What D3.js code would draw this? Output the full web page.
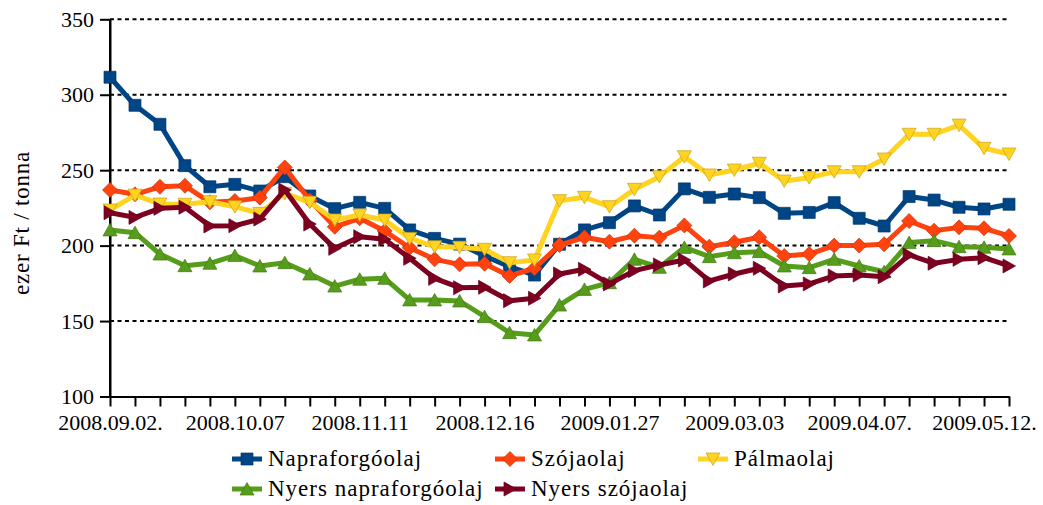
<!DOCTYPE html>
<html><head><meta charset="utf-8">
<script src="https://cdn.jsdelivr.net/npm/d3@7"></script>
<style>
body{margin:0;background:#fff}
</style>
</head><body>
<svg id="c" width="1043" height="505"></svg>
<script>
const categories = ["2008.09.02","2008.09.09","2008.09.16","2008.09.23","2008.09.30","2008.10.07","2008.10.14","2008.10.21","2008.10.28","2008.11.04","2008.11.11","2008.11.18","2008.11.25","2008.12.02","2008.12.09","2008.12.16","2008.12.23","2009.01.06","2009.01.13","2009.01.20","2009.01.27","2009.02.03","2009.02.10","2009.02.17","2009.02.24","2009.03.03","2009.03.10","2009.03.17","2009.03.24","2009.03.31","2009.04.07","2009.04.14","2009.04.21","2009.04.28","2009.05.05","2009.05.12","2009.05.19"];
const tickLabels = ["2008.09.02.","2008.10.07","2008.11.11","2008.12.16","2009.01.27","2009.03.03","2009.04.07.","2009.05.12."];
const yTicks = [100,150,200,250,300,350];
const seriesNames = ["Napraforgóolaj","Szójaolaj","Pálmaolaj","Nyers napraforgóolaj","Nyers szójaolaj"];
const napraforgoolaj = [311.6,293,280.4,253,239,240.6,236.2,245.7,232.9,224.5,228.7,224.7,210.4,204.8,201,193.1,186,180.5,200.9,210.4,215.2,226.3,220.3,237.6,232,234.2,231.8,221.4,222,228.5,218.1,213,232.5,230.2,225.4,224.3,227.4];
const szojaolaj = [236.9,234,239,239.7,228.7,229.6,231.8,251.8,230,212.5,218.1,209.7,198.6,190.9,187.6,188,179.9,185,200.4,205.5,202.6,206.6,205.3,213.4,199.3,202.2,205.5,193.1,194.4,200,200,200.9,216.3,209.9,212.1,211.5,206.4];
const palmaolaj = [223.6,233.5,227.6,227.4,229.1,225.8,221.4,234.6,228.7,217,220.3,217,204.8,199.3,198.9,197.6,188.7,190.5,229.8,232,225.8,237.3,245.7,258.9,246.8,250.1,254.6,242.8,245,249,249,257.4,273.8,273.8,279.9,264.5,260.7];
const nyersNapraforgoolaj = [210.4,208.6,194.4,186.7,188.3,193.4,186.5,188.7,181.2,173.2,177.7,178.3,164,164,163.3,152.9,142.3,140.8,160.6,171,175.4,190.9,185.6,198.8,192.7,195.3,196,186.5,185.4,190.9,186.5,182.7,202,203.3,199.3,198.9,197.8];
const nyersSzojaolaj = [221.8,218.7,224.7,225.4,213,213.2,217.6,236.9,214.3,198.2,205.9,204.2,191.6,178.3,172.1,172.4,163.5,165.1,181.2,184.3,174.6,183.4,187.2,190.5,176.6,181.2,185,173.2,174.6,179.9,180.5,179.4,193.8,188.3,190.9,192,186.5];
const colors = ["#004586","#ff420e","#ffd320","#579d1c","#7e0021"];
const shapes = ["square","diamond","down","up","right"];
const FONT = '"Liberation Serif"';

const svg = d3.select("#c");
const x = d3.scalePoint().domain(categories).range([110, 1009]);
const y = d3.scaleLinear().domain([100, 350]).range([396.5, 19.3]);

// gridlines
svg.append("g").selectAll("line").data(yTicks.filter(v => v > 100)).join("line")
  .attr("x1", 110).attr("x2", 1010)
  .attr("y1", d => y(d)).attr("y2", d => y(d))
  .attr("stroke", "#000").attr("stroke-width", 2).attr("stroke-dasharray", "4,3.5");

// axes
const labelMap = {};
tickLabels.forEach(l => labelMap[l.replace(/\.$/, "")] = l);
const gx = svg.append("g").attr("transform", `translate(0,${y(100)})`)
  .call(d3.axisBottom(x).tickValues(categories).tickFormat(d => labelMap[d] || "").tickSize(10).tickSizeOuter(0).tickPadding(7));
gx.selectAll("text").attr("dy", "0.75em");
const gy = svg.append("g").attr("transform", "translate(110,0)")
  .call(d3.axisLeft(y).tickValues(yTicks).tickSize(10).tickSizeOuter(0).tickPadding(6));
[gx, gy].forEach(g => {
  g.attr("font-family", null).attr("font-size", null);
  g.selectAll("text").style("font-family", FONT).style("font-size", "22px").attr("fill", "#000");
  g.select(".domain").attr("stroke", "#000").attr("stroke-width", 2);
  g.selectAll(".tick line").attr("stroke", "#000").attr("stroke-width", 2);
});
svg.append("path").attr("d", `M110,${y(350)}V${y(100)}`).attr("stroke", "#000").attr("stroke-width", 2);

svg.append("text").attr("transform", "translate(29,223) rotate(-90)")
  .attr("text-anchor", "middle").style("font-family", FONT).style("font-size", "23px")
  .style("letter-spacing", "0.8px").text("ezer Ft / tonna");

function markerPath(shape) {
  switch (shape) {
    case "square": return "M-6,-6H6V6H-6Z";
    case "diamond": return "M0,-7.5L7.5,0L0,7.5L-7.5,0Z";
    case "down": return "M-7,-6L7,-6L0,6.5Z";
    case "up": return "M-7,6L7,6L0,-6.5Z";
    case "right": return "M-6,-7L6.5,0L-6,7Z";
  }
}

const seriesData = [napraforgoolaj, szojaolaj, palmaolaj, nyersNapraforgoolaj, nyersSzojaolaj];
const line = d3.line().x((d, i) => x(categories[i])).y(d => y(d));
seriesData.forEach((vals, s) => {
  const g = svg.append("g");
  g.append("path").attr("d", line(vals)).attr("fill", "none")
    .attr("stroke", colors[s]).attr("stroke-width", 5).attr("stroke-linejoin", "round");
  g.selectAll("path.m").data(vals).join("path").attr("class", "m")
    .attr("transform", (d, i) => `translate(${x(categories[i])},${y(d)})`)
    .attr("d", markerPath(shapes[s]))
    .attr("fill", colors[s]).attr("stroke", d3.color(colors[s]).darker(0.7)).attr("stroke-width", 0.7);
});

// legend
const legPos = [[232,466],[495,466],[698,466],[232,496],[495,496]];
seriesNames.forEach((name, s) => {
  const [lx, ly] = legPos[s];
  const g = svg.append("g");
  const cy = ly - 7;
  g.append("line").attr("x1", lx).attr("x2", lx + 30).attr("y1", cy).attr("y2", cy)
    .attr("stroke", colors[s]).attr("stroke-width", 5);
  g.append("path").attr("transform", `translate(${lx + 15},${cy})`).attr("d", markerPath(shapes[s]))
    .attr("fill", colors[s]).attr("stroke", d3.color(colors[s]).darker(0.7)).attr("stroke-width", 0.7);
  g.append("text").attr("x", lx + 36).attr("y", ly).style("font-family", FONT).style("font-size", "23px")
    .style("letter-spacing", "1px").text(name);
});
</script>
</body></html>
